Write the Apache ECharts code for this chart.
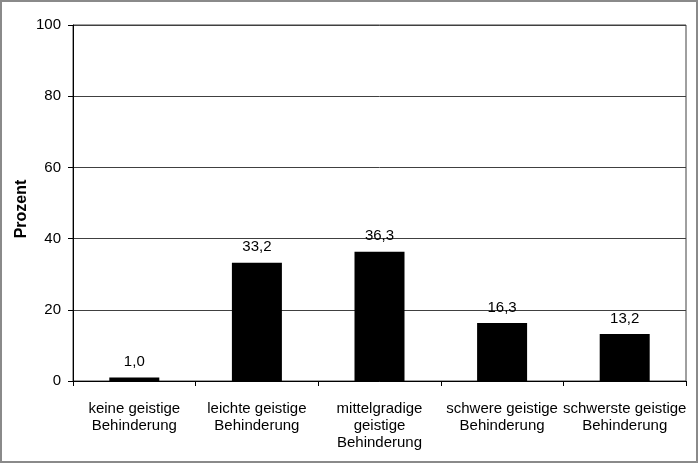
<!DOCTYPE html>
<html><head><meta charset="utf-8">
<script src="https://cdn.jsdelivr.net/npm/echarts@6/dist/echarts.min.js"></script>
<style>html,body{margin:0;padding:0;background:#fff}#c{width:700px;height:464px}</style>
</head><body><div id="c"></div>
<script>
const categories = ["keine geistige\nBehinderung", "leichte geistige\nBehinderung", "mittelgradige\ngeistige\nBehinderung", "schwere geistige\nBehinderung", "schwerste geistige\nBehinderung"];
const values = [1.0, 33.2, 36.3, 16.3, 13.2];
const yTicks = [0, 20, 40, 60, 80, 100];
const yTitle = "Prozent";

const FONT = '"Liberation Sans", Arial, sans-serif';
const chart = echarts.init(document.getElementById('c'), null, {renderer: 'canvas'});
chart.setOption({
  animation: false,
  backgroundColor: '#fff',
  graphic: [
    {type: 'rect', shape: {x: 1, y: 1, width: 696, height: 461}, style: {fill: 'none', stroke: '#8a8a8a', lineWidth: 2}, silent: true},
    {type: 'text', x: 22, y: 209, rotation: Math.PI / 2, style: {text: yTitle, fill: '#000', font: 'bold 16px ' + FONT, align: 'center', verticalAlign: 'middle'}, silent: true}
  ],
  grid: {left: 73, right: 14, top: 25, bottom: 83, show: true, borderColor: '#404040', borderWidth: 1, backgroundColor: 'transparent'},
  xAxis: {
    type: 'category', data: categories, boundaryGap: true,
    axisLine: {lineStyle: {color: '#000', width: 1}},
    axisTick: {show: true, length: 5, lineStyle: {color: '#000'}},
    axisLabel: {interval: 0, margin: 19, color: '#000', fontFamily: FONT, fontSize: 15, lineHeight: 17}
  },
  yAxis: {
    type: 'value', min: yTicks[0], max: yTicks[yTicks.length - 1], interval: 20,
    axisLine: {show: true, lineStyle: {color: '#000', width: 1}},
    axisTick: {show: true, length: 5, lineStyle: {color: '#000'}},
    axisLabel: {margin: 12, color: '#000', fontFamily: FONT, fontSize: 15},
    splitLine: {show: true, lineStyle: {color: '#404040', width: 1}}
  },
  series: [{
    type: 'bar', data: values, barWidth: 50,
    itemStyle: {color: '#000'},
    label: {show: true, position: 'top', distance: 8, color: '#000', fontFamily: FONT, fontSize: 15,
      formatter: p => p.value.toFixed(1).replace('.', ',')}
  }]
});
</script></body></html>
